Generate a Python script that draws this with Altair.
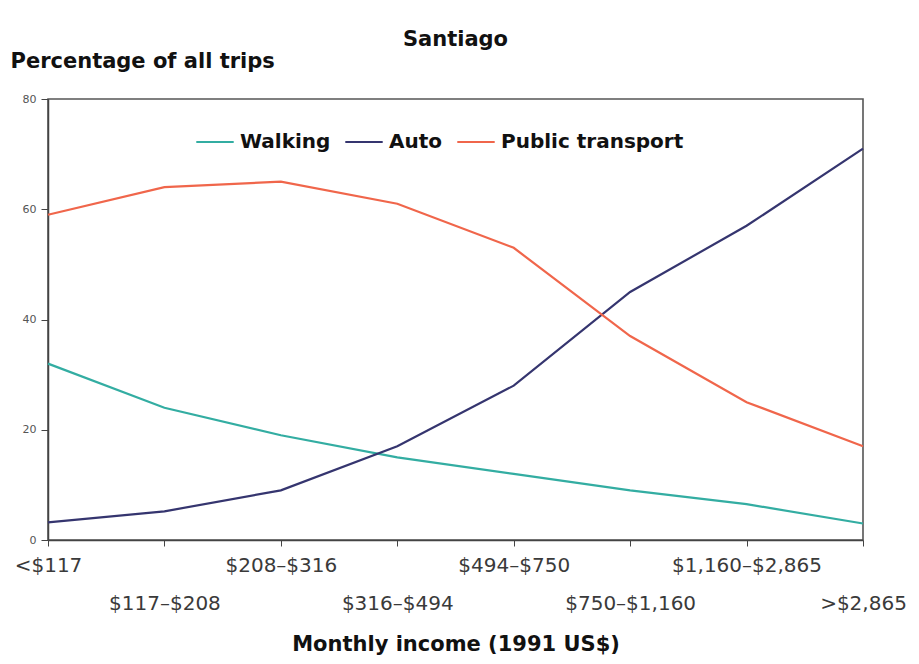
import json
import altair as alt
import pandas as pd

categories = ["<$117", "$117–$208", "$208–$316", "$316–$494",
              "$494–$750", "$750–$1,160", "$1,160–$2,865", ">$2,865"]
walking = [32, 24, 19, 15, 12, 9, 6.5, 3]
auto = [3.2, 5.2, 9, 17, 28, 45, 57, 71]
public_transport = [59, 64, 65, 61, 53, 37, 25, 17]
modes = ["Walking", "Auto", "Public transport"]
colors = ["#33ada2", "#35356f", "#f0664b"]
y_ticks = [0, 20, 40, 60, 80]

rows = []
for mode, vals in zip(modes, [walking, auto, public_transport]):
    for c, v in zip(categories, vals):
        rows.append({"income": c, "mode": mode, "pct": v})
df = pd.DataFrame(rows)

cat_json = json.dumps(categories, ensure_ascii=False)
label_expr = f"indexof({cat_json}, datum.value) % 2 == 1 ? ['', datum.value] : datum.value"

BOLD = "DejaVu Sans"

chart = alt.Chart(df).mark_line(strokeWidth=2.2).encode(
    x=alt.X("income:N", sort=categories,
            scale=alt.Scale(type="point", padding=0),
            axis=alt.Axis(title="Monthly income (1991 US$)", labelAngle=0,
                          labelExpr=label_expr, labelFont="DejaVu Sans",
                          labelFontSize=20, labelColor="#3a3a3a",
                          labelLineHeight=38, labelPadding=9, tickSize=6,
                          labelBaseline="top", labelOverlap=False, labelLimit=0,
                          titleFont=BOLD, titleFontSize=21,
                          titleFontWeight="bold", titleColor="#111",
                          titlePadding=20, domainColor="#444", tickColor="#444",
                          domainWidth=1.5)),
    y=alt.Y("pct:Q", scale=alt.Scale(domain=[0, 80], nice=False),
            axis=alt.Axis(values=y_ticks, title="Percentage of all trips",
                          grid=False, labelFontSize=11, labelColor="#555",
                          labelFont="DejaVu Sans", tickSize=7, labelPadding=5,
                          titleAngle=0, titleAlign="left", titleBaseline="alphabetic",
                          titleX=-38, titleY=-32, titleFont=BOLD,
                          titleFontSize=21, titleFontWeight="bold", titleColor="#111",
                          domainColor="#444", tickColor="#444", domainWidth=1.5)),
    color=alt.Color("mode:N", sort=modes,
                    scale=alt.Scale(domain=modes, range=colors),
                    legend=alt.Legend(title=None, orient="none", legendX=147, legendY=23,
                                      direction="horizontal", symbolType="stroke",
                                      symbolSize=1400, symbolStrokeWidth=2,
                                      labelFont=BOLD, labelFontSize=20,
                                      labelFontWeight="bold", labelColor="#111",
                                      labelLimit=0, columnPadding=10, labelOffset=5)),
).properties(
    width=815, height=441,
    title=alt.TitleParams("Santiago", font=BOLD, fontSize=21,
                          fontWeight="bold", anchor="middle", color="#111", offset=0),
    autosize=alt.AutoSizeParams(type="none"),
    padding={"left": 40, "top": 91, "right": 48, "bottom": 120},
    background="white",
).configure_view(stroke="#555", strokeWidth=1.6)

chart.save("out.html", embed_options={"renderer": "svg", "actions": False})
